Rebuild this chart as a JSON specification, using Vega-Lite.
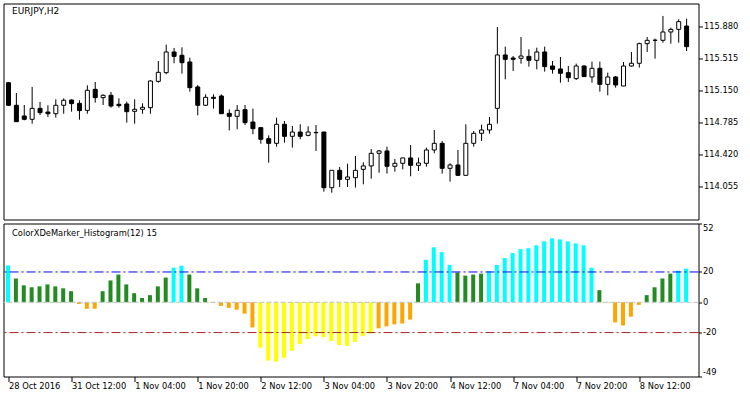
{
  "$schema": "https://vega.github.io/schema/vega-lite/v6.json",
  "padding": {"left": 2.5, "top": 2.5, "right": 0, "bottom": 0},
  "background": "white",
  "spacing": 2,
  "config": {
    "view": {"stroke": "black", "strokeWidth": 1},
    "font": "DejaVu Sans",
    "axis": {"domain": false, "grid": false, "ticks": true, "tickColor": "black", "tickSize": 4, "labelColor": "black", "labelFont": "DejaVu Sans", "labelFontSize": 8.3, "labelPadding": 1, "title": null, "labelOverlap": false}
  },
  "datasets": {
    "candles": [
      {"i":0,"o":115.245,"h":115.253,"l":114.979,"c":114.987},
      {"i":1,"o":114.987,"h":115.127,"l":114.796,"c":114.800},
      {"i":2,"o":114.865,"h":114.990,"l":114.815,"c":114.827},
      {"i":3,"o":114.827,"h":115.196,"l":114.777,"c":114.952},
      {"i":4,"o":114.952,"h":115.025,"l":114.876,"c":114.903},
      {"i":5,"o":114.910,"h":114.987,"l":114.853,"c":114.891},
      {"i":6,"o":114.891,"h":115.055,"l":114.846,"c":114.987},
      {"i":7,"o":114.987,"h":115.066,"l":114.891,"c":115.044},
      {"i":8,"o":115.047,"h":115.055,"l":114.914,"c":115.006},
      {"i":9,"o":115.009,"h":115.044,"l":114.823,"c":114.926},
      {"i":10,"o":114.929,"h":115.215,"l":114.891,"c":115.158},
      {"i":11,"o":115.169,"h":115.253,"l":115.017,"c":115.074},
      {"i":12,"o":115.074,"h":115.112,"l":114.990,"c":115.101},
      {"i":13,"o":115.101,"h":115.139,"l":114.960,"c":114.979},
      {"i":14,"o":114.998,"h":115.066,"l":114.960,"c":114.983},
      {"i":15,"o":115.002,"h":115.028,"l":114.789,"c":114.914},
      {"i":16,"o":114.918,"h":115.055,"l":114.777,"c":114.941},
      {"i":17,"o":114.941,"h":115.009,"l":114.891,"c":114.964},
      {"i":18,"o":114.960,"h":115.272,"l":114.891,"c":115.264},
      {"i":19,"o":115.260,"h":115.492,"l":115.245,"c":115.363},
      {"i":20,"o":115.359,"h":115.679,"l":115.340,"c":115.595},
      {"i":21,"o":115.595,"h":115.641,"l":115.466,"c":115.545},
      {"i":22,"o":115.557,"h":115.648,"l":115.348,"c":115.473},
      {"i":23,"o":115.481,"h":115.530,"l":115.142,"c":115.188},
      {"i":24,"o":115.196,"h":115.218,"l":114.872,"c":114.987},
      {"i":25,"o":114.987,"h":115.112,"l":114.983,"c":115.078},
      {"i":26,"o":115.078,"h":115.112,"l":114.949,"c":115.066},
      {"i":27,"o":115.093,"h":115.112,"l":114.888,"c":114.891},
      {"i":28,"o":114.895,"h":114.941,"l":114.701,"c":114.861},
      {"i":29,"o":114.861,"h":114.990,"l":114.713,"c":114.929},
      {"i":30,"o":114.937,"h":114.990,"l":114.762,"c":114.789},
      {"i":31,"o":114.796,"h":114.949,"l":114.656,"c":114.720},
      {"i":32,"o":114.732,"h":114.739,"l":114.549,"c":114.599},
      {"i":33,"o":114.606,"h":114.644,"l":114.333,"c":114.553},
      {"i":34,"o":114.553,"h":114.846,"l":114.515,"c":114.770},
      {"i":35,"o":114.770,"h":114.808,"l":114.561,"c":114.633},
      {"i":36,"o":114.633,"h":114.751,"l":114.504,"c":114.682},
      {"i":37,"o":114.682,"h":114.770,"l":114.599,"c":114.633},
      {"i":38,"o":114.644,"h":114.747,"l":114.633,"c":114.682},
      {"i":39,"o":114.677,"h":114.762,"l":114.466,"c":114.674},
      {"i":40,"o":114.682,"h":114.684,"l":114.002,"c":114.047},
      {"i":41,"o":114.047,"h":114.247,"l":113.990,"c":114.245},
      {"i":42,"o":114.245,"h":114.283,"l":114.055,"c":114.142},
      {"i":43,"o":114.142,"h":114.321,"l":114.055,"c":114.169},
      {"i":44,"o":114.161,"h":114.409,"l":114.047,"c":114.245},
      {"i":45,"o":114.256,"h":114.336,"l":114.085,"c":114.295},
      {"i":46,"o":114.295,"h":114.488,"l":114.150,"c":114.439},
      {"i":47,"o":114.439,"h":114.477,"l":114.218,"c":114.466},
      {"i":48,"o":114.466,"h":114.515,"l":114.207,"c":114.291},
      {"i":49,"o":114.291,"h":114.374,"l":114.230,"c":114.325},
      {"i":50,"o":114.325,"h":114.388,"l":114.256,"c":114.386},
      {"i":51,"o":114.386,"h":114.534,"l":114.177,"c":114.302},
      {"i":52,"o":114.302,"h":114.390,"l":114.237,"c":114.329},
      {"i":53,"o":114.325,"h":114.504,"l":114.287,"c":114.477},
      {"i":54,"o":114.477,"h":114.705,"l":114.439,"c":114.553},
      {"i":55,"o":114.553,"h":114.580,"l":114.207,"c":114.268},
      {"i":56,"o":114.268,"h":114.325,"l":114.116,"c":114.306},
      {"i":57,"o":114.306,"h":114.477,"l":114.180,"c":114.188},
      {"i":58,"o":114.188,"h":114.770,"l":114.185,"c":114.553},
      {"i":59,"o":114.553,"h":114.694,"l":114.515,"c":114.667},
      {"i":60,"o":114.667,"h":114.766,"l":114.580,"c":114.705},
      {"i":61,"o":114.705,"h":114.853,"l":114.663,"c":114.770},
      {"i":62,"o":114.952,"h":115.880,"l":114.777,"c":115.561},
      {"i":63,"o":115.561,"h":115.656,"l":115.283,"c":115.511},
      {"i":64,"o":115.526,"h":115.549,"l":115.378,"c":115.511},
      {"i":65,"o":115.523,"h":115.766,"l":115.462,"c":115.549},
      {"i":66,"o":115.545,"h":115.625,"l":115.428,"c":115.500},
      {"i":67,"o":115.500,"h":115.644,"l":115.397,"c":115.595},
      {"i":68,"o":115.595,"h":115.656,"l":115.371,"c":115.428},
      {"i":69,"o":115.435,"h":115.492,"l":115.348,"c":115.397},
      {"i":70,"o":115.401,"h":115.538,"l":115.245,"c":115.352},
      {"i":71,"o":115.359,"h":115.435,"l":115.253,"c":115.302},
      {"i":72,"o":115.291,"h":115.462,"l":115.276,"c":115.435},
      {"i":73,"o":115.435,"h":115.443,"l":115.310,"c":115.314},
      {"i":74,"o":115.310,"h":115.485,"l":115.245,"c":115.409},
      {"i":75,"o":115.409,"h":115.485,"l":115.142,"c":115.226},
      {"i":76,"o":115.226,"h":115.359,"l":115.101,"c":115.310},
      {"i":77,"o":115.310,"h":115.321,"l":115.188,"c":115.218},
      {"i":78,"o":115.207,"h":115.481,"l":115.205,"c":115.435},
      {"i":79,"o":115.435,"h":115.595,"l":115.428,"c":115.466},
      {"i":80,"o":115.466,"h":115.701,"l":115.416,"c":115.690},
      {"i":81,"o":115.690,"h":115.766,"l":115.595,"c":115.728},
      {"i":82,"o":115.728,"h":115.747,"l":115.519,"c":115.729},
      {"i":83,"o":115.728,"h":116.006,"l":115.701,"c":115.823},
      {"i":84,"o":115.823,"h":115.872,"l":115.690,"c":115.853},
      {"i":85,"o":115.853,"h":115.968,"l":115.701,"c":115.941},
      {"i":86,"o":115.891,"h":115.975,"l":115.606,"c":115.656}
    ],
    "hist": [
      {"i":0,"v":24.3},{"i":1,"v":15.7},{"i":2,"v":11.2},{"i":3,"v":9.9},{"i":4,"v":10.5},
      {"i":5,"v":11.8},{"i":6,"v":10.5},{"i":7,"v":9.2},{"i":8,"v":7.3},{"i":9,"v":-1.1},
      {"i":10,"v":-4.3},{"i":11,"v":-4.3},{"i":12,"v":7.3},{"i":13,"v":14.4},{"i":14,"v":18.3},
      {"i":15,"v":11.8},{"i":16,"v":6.0},{"i":17,"v":2.8},{"i":18,"v":4.7},{"i":19,"v":10.5},
      {"i":20,"v":16.3},{"i":21,"v":22.8},{"i":22,"v":24.1},{"i":23,"v":18.3},{"i":24,"v":9.2},
      {"i":25,"v":2.8},{"i":26,"v":-0.4},{"i":27,"v":-2.4},{"i":28,"v":-3.7},{"i":29,"v":-4.9},
      {"i":30,"v":-7.5},{"i":31,"v":-16.6},{"i":32,"v":-30.1},{"i":33,"v":-38.5},{"i":34,"v":-39.1},
      {"i":35,"v":-36.6},{"i":36,"v":-32.0},{"i":37,"v":-27.5},{"i":38,"v":-24.3},{"i":39,"v":-22.4},
      {"i":40,"v":-23.0},{"i":41,"v":-25.6},{"i":42,"v":-28.2},{"i":43,"v":-28.8},{"i":44,"v":-26.2},
      {"i":45,"v":-22.4},{"i":46,"v":-20.5},{"i":47,"v":-17.2},{"i":48,"v":-15.9},{"i":49,"v":-14.6},
      {"i":50,"v":-14.0},{"i":51,"v":-11.4},{"i":52,"v":12.5},{"i":53,"v":28.0},{"i":54,"v":36.3},
      {"i":55,"v":33.1},{"i":56,"v":24.7},{"i":57,"v":19.6},{"i":58,"v":17.6},{"i":59,"v":18.3},
      {"i":60,"v":18.9},{"i":61,"v":20.5},{"i":62,"v":24.7},{"i":63,"v":29.2},{"i":64,"v":32.5},
      {"i":65,"v":35.1},{"i":66,"v":35.7},{"i":67,"v":37.6},{"i":68,"v":40.2},{"i":69,"v":42.2},
      {"i":70,"v":41.5},{"i":71,"v":40.2},{"i":72,"v":38.9},{"i":73,"v":37.6},{"i":74,"v":22.8},
      {"i":75,"v":8.0},{"i":76,"v":-0.3},{"i":77,"v":-13.3},{"i":78,"v":-15.3},{"i":79,"v":-9.5},
      {"i":80,"v":-1.7},{"i":81,"v":4.7},{"i":82,"v":9.9},{"i":83,"v":15.7},{"i":84,"v":18.9},
      {"i":85,"v":20.9},{"i":86,"v":22.2}
    ],
    "levels": [
      {"v": 20, "kind": "up"},
      {"v": -20, "kind": "down"},
      {"v": 0, "kind": "zero"}
    ]
  },
  "vconcat": [
    {
      "width": 695,
      "height": 216,
      "layer": [
        {
          "data": {"name": "candles"},
          "mark": {"type": "rule", "color": "black", "strokeWidth": 1},
          "encoding": {
            "x": {"field": "i", "type": "quantitative", "scale": {"domain": [0, 86.875], "nice": false, "zero": false}, "axis": null},
            "y": {"field": "l", "type": "quantitative", "scale": {"domain": [113.684, 116.148], "nice": false, "zero": false},
                  "axis": {"orient": "right", "values": [114.055, 114.42, 114.785, 115.15, 115.515, 115.88], "format": ".3f", "labelFlush": false, "labelOverlap": false}},
            "y2": {"field": "h"}
          }
        },
        {
          "data": {"name": "candles"},
          "mark": {"type": "bar", "size": 4, "stroke": "black", "strokeWidth": 1},
          "encoding": {
            "x": {"field": "i", "type": "quantitative"},
            "y": {"field": "o", "type": "quantitative"},
            "y2": {"field": "c"},
            "fill": {"condition": {"test": "datum.c < datum.o", "value": "black"}, "value": "white"}
          }
        },
        {
          "data": {"values": [{"label": "EURJPY,H2"}]},
          "mark": {"type": "text", "align": "left", "baseline": "alphabetic", "fontSize": 9, "font": "DejaVu Sans", "color": "black"},
          "encoding": {
            "x": {"datum": 0.45, "type": "quantitative"},
            "y": {"datum": 116.025, "type": "quantitative"},
            "text": {"field": "label"}
          }
        }
      ]
    },
    {
      "width": 695,
      "height": 153,
      "encoding": {
        "y": {"field": "v", "type": "quantitative", "scale": {"domain": [-49, 52], "nice": false, "zero": false},
              "axis": {"orient": "right", "values": [-49, -20, 0, 20, 52], "labelFlush": false, "labelOverlap": false, "tickSize": 3, "labelExpr": "'' + datum.value",
                       "labelBaseline": {"condition": [{"test": "datum.value == 52", "value": "top"}, {"test": "datum.value == -49", "value": "bottom"}], "value": "middle"}}}
      },
      "layer": [
        {
          "data": {"name": "hist"},
          "mark": {"type": "bar", "size": 4, "xOffset": -0.5},
          "encoding": {
            "x": {"field": "i", "type": "quantitative", "scale": {"domain": [0, 86.875], "nice": false, "zero": false},
                  "axis": {"orient": "bottom", "values": [0, 8, 16, 24, 32, 40, 48, 56, 64, 72, 80], "tickSize": 5, "labelAlign": "left", "labelBaseline": "alphabetic", "labelPadding": 7, "labelFlush": false, "labelOverlap": false,
                           "labelExpr": "['28 Oct 2016','31 Oct 12:00','1 Nov 04:00','1 Nov 20:00','2 Nov 12:00','3 Nov 04:00','3 Nov 20:00','4 Nov 12:00','7 Nov 04:00','7 Nov 20:00','8 Nov 12:00'][round(datum.value / 8)]"}},
            "y2": {"datum": 0},
            "color": {
              "condition": [
                {"test": "datum.v > 20", "value": "#00FFFF"},
                {"test": "datum.v > 0", "value": "#228B22"},
                {"test": "datum.v >= -20", "value": "#FFA500"}
              ],
              "value": "#FFFF00"
            }
          }
        },
        {
          "data": {"name": "levels"},
          "transform": [{"filter": "datum.kind == 'up'"}],
          "mark": {"type": "rule", "color": "#0000FF", "strokeWidth": 1, "strokeDash": [9, 3, 2, 3]},
          "encoding": {}
        },
        {
          "data": {"name": "levels"},
          "transform": [{"filter": "datum.kind == 'down'"}],
          "mark": {"type": "rule", "color": "#B22222", "strokeWidth": 1, "strokeDash": [9, 3, 2, 3]},
          "encoding": {}
        },
        {
          "data": {"name": "levels"},
          "transform": [{"filter": "datum.kind == 'zero'"}],
          "mark": {"type": "rule", "color": "#C0C0C0", "strokeWidth": 1, "strokeDash": [5, 2]},
          "encoding": {}
        },
        {
          "data": {"values": [{"label": "ColorXDeMarker_Histogram(12) 15", "v": 43.5}]},
          "mark": {"type": "text", "align": "left", "baseline": "alphabetic", "fontSize": 8.3, "font": "DejaVu Sans", "color": "black"},
          "encoding": {
            "x": {"datum": 0.45, "type": "quantitative"},
            "text": {"field": "label"}
          }
        }
      ]
    }
  ]
}
